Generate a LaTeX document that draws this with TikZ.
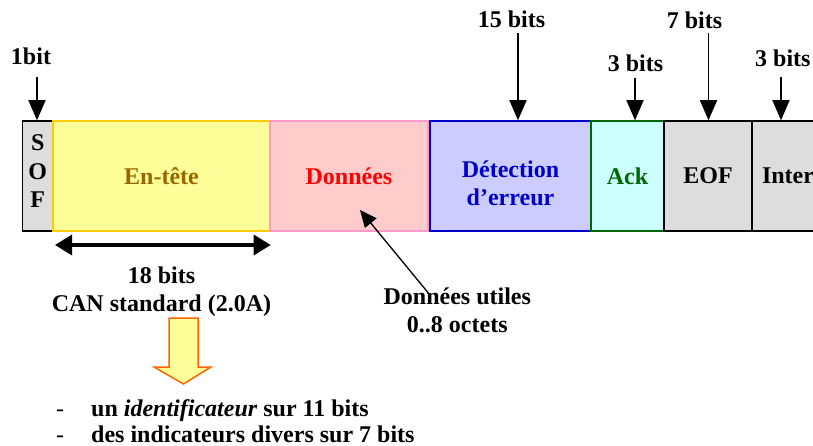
\documentclass[tikz,border=0pt]{standalone}
\usepackage{fontspec}
\setmainfont{Liberation Serif}
\usetikzlibrary{arrows.meta}

\definecolor{sofgray}{HTML}{DDDDDD}
\definecolor{headfill}{HTML}{FFFF99}
\definecolor{headline}{HTML}{FFCC00}
\definecolor{headtext}{HTML}{996600}
\definecolor{datafill}{HTML}{FFCCCC}
\definecolor{dataline}{HTML}{FF99CC}
\definecolor{crcfill}{HTML}{CCCCFF}
\definecolor{crcline}{HTML}{0000CC}
\definecolor{ackfill}{HTML}{CCFFFF}
\definecolor{ackline}{HTML}{006600}
\definecolor{blockline}{HTML}{FF6600}

\tikzset{
  bigtext/.style={font=\bfseries\fontsize{24}{28}\selectfont},
  fieldbox/.style={draw, line width=1.5pt, minimum height=110pt, inner sep=0pt,
    bigtext, align=center},
  lbl/.style={bigtext, inner sep=0pt, anchor=base},
  pointer/.style={line width=1.5pt, -{Triangle[length=20pt,width=17pt]}},
  span/.style={line width=3.5pt, {Triangle[length=17pt,width=20pt]}-{Triangle[length=17pt,width=20pt]}},
  thinpointer/.style={line width=1.3pt, -{Triangle[length=17pt,width=15pt]}},
  bigarrow/.style={draw=blockline, fill=headfill, line width=1.5pt, line join=miter},
}

\begin{document}
\begin{tikzpicture}[x=1pt,y=-1pt]
\clip (0,0) rectangle (813,446);
\fill[white] (0,0) rectangle (813,446);

% frame fields
\node[fieldbox, fill=sofgray, minimum width=30.5pt] (sof) at (37.75,176)
  {S\\[0.5pt]O\\[0.5pt]F\rule[-9pt]{0pt}{9pt}};
\node[fieldbox, fill=headfill, draw=headline, minimum width=217pt, text=headtext] (entete) at (161.5,176) {En-tête};
\node[fieldbox, fill=datafill, draw=dataline, minimum width=158pt, text=red] (donnees) at (349,176) {Données};
\node[fieldbox, fill=crcfill, draw=crcline, minimum width=161pt, text=crcline] (detect) at (510.5,176)
  {\rule{0pt}{31pt}Détection\\d’erreur};
\node[fieldbox, fill=ackfill, draw=ackline, minimum width=73pt, text=ackline] (ack) at (627.5,176) {Ack};
\node[fieldbox, fill=sofgray, minimum width=88pt] (eof) at (708,176) {EOF};
\node[fieldbox, fill=sofgray, minimum width=88pt, text width=68pt, align=left] (inter) at (796,176) {Inter};

% field sizes above the frame
\node[lbl] (l1) at (31,65) {1bit};
\node[lbl] (l15) at (511.5,28) {15 bits};
\node[lbl] (l3a) at (635.5,71.7) {3 bits};
\node[lbl] (l7) at (694.5,28.3) {7 bits};
\node[lbl, anchor=base west] (l3b) at (755,66.7) {3 bits};

\coordinate (s1) at (37,77);
\coordinate (s15) at (518,33);
\coordinate (s3a) at (635,78);
\coordinate (s7) at (708.5,33);
\coordinate (s3b) at (781,77);
\draw[pointer] (s1) -- (s1 |- sof.north);
\draw[pointer] (s15) -- (s15 |- detect.north);
\draw[pointer] (s3a) -- (s3a |- ack.north);
\draw[pointer] (s7) -- (s7 |- eof.north);
\draw[pointer] (s3b) -- (s3b |- inter.north);

% header width
\coordinate (hl) at (55,245);
\coordinate (hr) at (270.7,245);
\draw[span] (hl) -- (hr);
\node[lbl, align=center] (hbits) at (161.5,311) {18 bits\\CAN standard (2.0A)};

% payload note
\node[lbl, align=center] (utile) at (457.3,332) {Données utiles\\0..8 octets};
\coordinate (ut) at (430,295);
\coordinate (dt) at (360,210);
\draw[thinpointer] (ut) -- (dt);

% block arrow towards the header breakdown
\draw[bigarrow] (169,318) -- (198,318) -- (198,367) -- (211,367) -- (183.5,384)
  -- (154,367) -- (169,367) -- cycle;

% header breakdown
\node[lbl, anchor=base west, font=\fontsize{24}{28}\selectfont] (d1) at (56,416) {-};
\node[lbl, anchor=base west] (t1) at (91,416) {un \textit{identificateur} sur 11 bits};
\node[lbl, anchor=base west, font=\fontsize{24}{28}\selectfont] (d2) at (56,442) {-};
\node[lbl, anchor=base west] (t2) at (91,442) {des indicateurs divers sur 7 bits};
\end{tikzpicture}
\end{document}
